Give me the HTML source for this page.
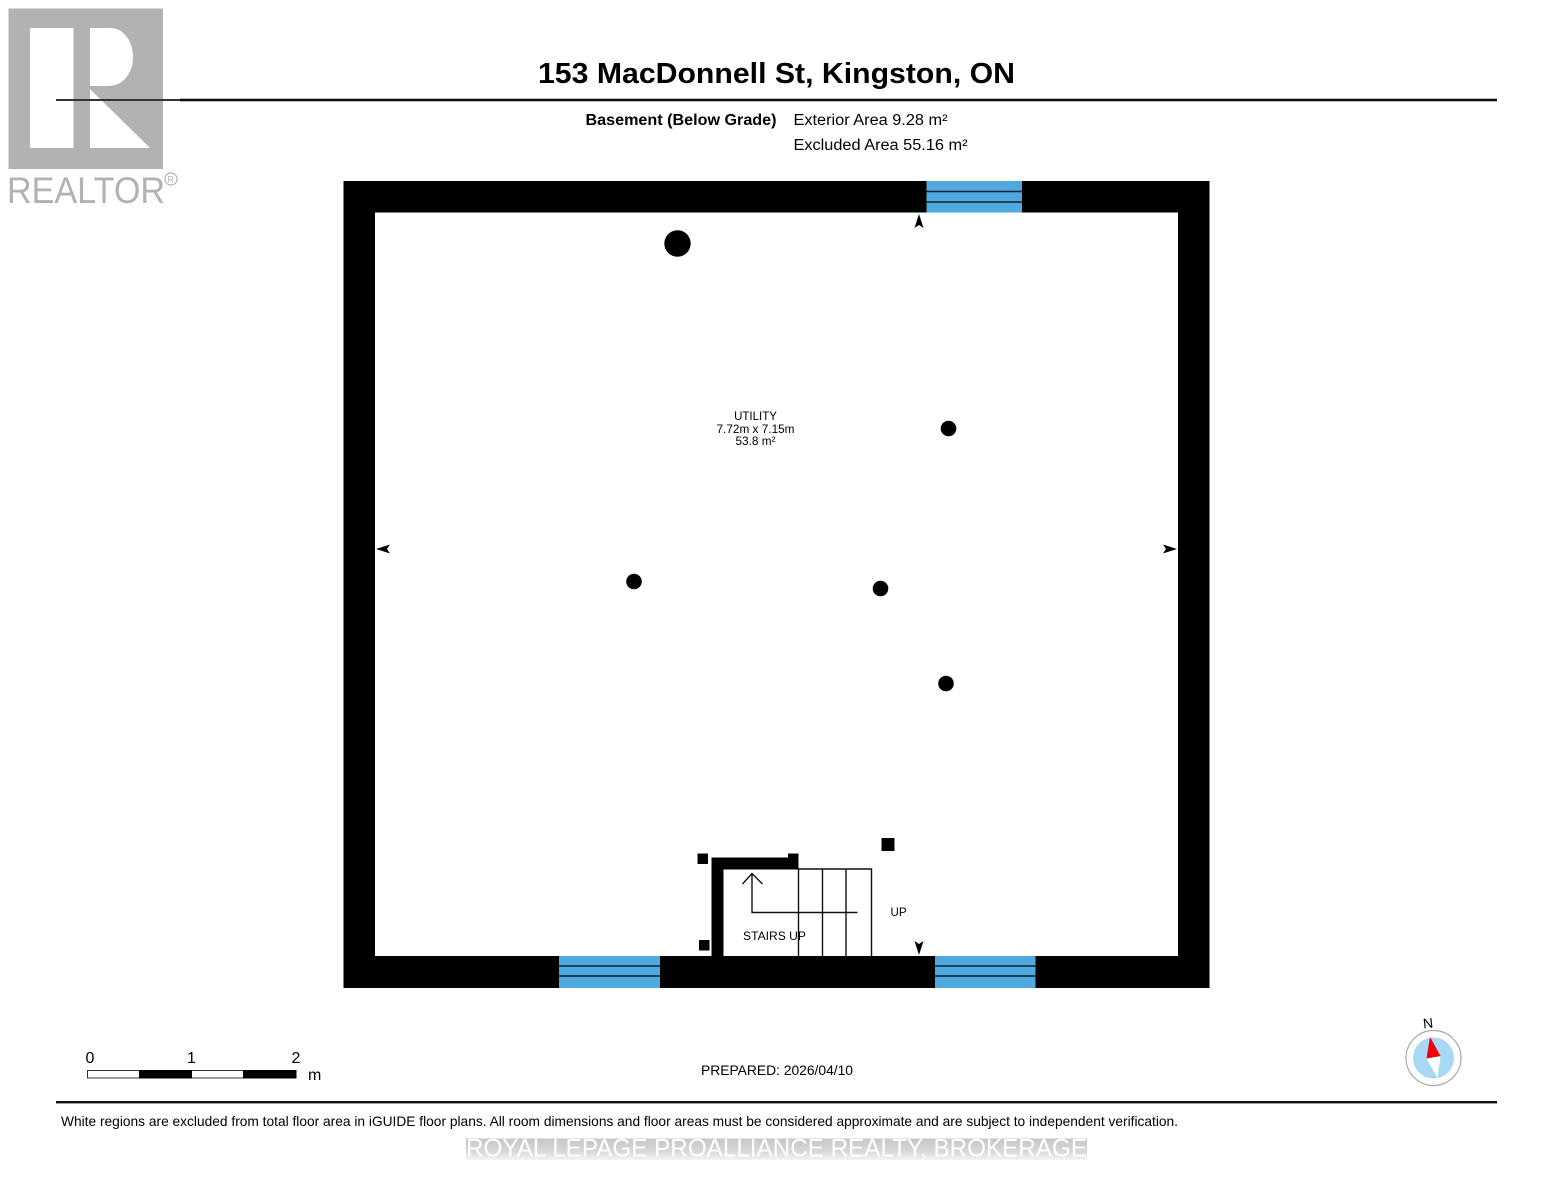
<!DOCTYPE html>
<html><head><meta charset="utf-8"><style>
html,body{margin:0;padding:0;background:#fff}
svg{display:block;filter:blur(0.35px)}
text{font-family:"Liberation Sans",Arial,sans-serif;fill:#000}
</style></head><body>
<svg width="1553" height="1200" viewBox="0 0 1553 1200" xmlns="http://www.w3.org/2000/svg">
<defs><linearGradient id="wm" x1="0" y1="0" x2="0" y2="1"><stop offset="0" stop-color="#c6c6c6"/><stop offset="0.6" stop-color="#d8d8d8"/><stop offset="1" stop-color="#f4f4f4"/></linearGradient></defs>
<rect width="1553" height="1200" fill="#fff"/>
<!-- logo -->
<rect x="8.5" y="8.5" width="154.5" height="160.5" fill="#b2b2b2"/>
<rect x="30" y="28" width="43.5" height="120" fill="#fff"/>
<path d="M90 28H110C124 28 133 42 133 57C133 72 124 86 108 86H90Z" fill="#fff"/>
<path d="M90 89L150 148H90Z" fill="#fff"/>
<text x="7" y="203" font-size="37" textLength="158" lengthAdjust="spacingAndGlyphs" style="fill:#b2b2b2">REALTOR</text>
<circle cx="171" cy="179" r="6" fill="none" stroke="#b2b2b2" stroke-width="1.2"/>
<text x="167.5" y="182.5" font-size="9" style="fill:#b2b2b2">R</text>
<!-- header -->
<rect x="56" y="99" width="124" height="2" fill="#333"/>
<rect x="180" y="98.7" width="1317" height="2.6" fill="#111"/>
<text x="538" y="83" font-size="29" font-weight="700" textLength="477" lengthAdjust="spacingAndGlyphs">153 MacDonnell St, Kingston, ON</text>
<text x="585.5" y="125" font-size="15.5" font-weight="700" textLength="191" lengthAdjust="spacingAndGlyphs">Basement (Below Grade)</text>
<text x="793.5" y="125" font-size="15.5" textLength="154" lengthAdjust="spacingAndGlyphs">Exterior Area 9.28 m²</text>
<text x="793.5" y="150" font-size="15.5" textLength="174" lengthAdjust="spacingAndGlyphs">Excluded Area 55.16 m²</text>
<!-- walls -->
<path fill-rule="evenodd" d="M343.5 181H1209.5V988H343.5ZM375 212.5V956H1178V212.5Z" fill="#000"/>
<!-- windows -->
<g fill="#4fa8de">
<rect x="926.5" y="181" width="95.5" height="31.5"/>
<rect x="559" y="956" width="101" height="32"/>
<rect x="935" y="956" width="100.5" height="32"/>
</g>
<g stroke="#0b2233" stroke-width="1.4">
<path d="M926.5 191.5H1022M926.5 202H1022"/>
<path d="M559 966H660M559 976H660"/>
<path d="M935 966H1035.5M935 976H1035.5"/>
</g>
<!-- columns -->
<circle cx="677.5" cy="243.5" r="13.2"/>
<circle cx="948.5" cy="428.5" r="7.8"/>
<circle cx="634" cy="581.5" r="7.8"/>
<circle cx="880.5" cy="588.5" r="7.8"/>
<circle cx="946" cy="683.5" r="7.8"/>
<rect x="881.5" y="838" width="13" height="13"/>
<rect x="697.5" y="853.5" width="10.5" height="10.5"/>
<rect x="699" y="940" width="10.5" height="10.5"/>
<!-- arrow markers -->
<path d="M919 214L923.5 228L919 225L914.5 228Z"/>
<path d="M919 955L914.5 941L919 944L923.5 941Z"/>
<path d="M376 549L390 544.5L387 549L390 553.5Z"/>
<path d="M1177 549L1163 544.5L1166 549L1163 553.5Z"/>
<!-- stairs -->
<rect x="711.5" y="857.5" width="12" height="99"/>
<rect x="711.5" y="857.5" width="87" height="12"/>
<rect x="788" y="853.5" width="10.5" height="12"/>
<g fill="none" stroke="#111" stroke-width="1.4">
<path d="M798.5 869H871.5V956M798.5 869V956M822.5 869V956M846 869V956"/>
<path d="M857.5 912.5H752V873M742.5 884L752 873.5L762.5 884"/>
</g>
<text x="743" y="940" font-size="11.5" textLength="63" lengthAdjust="spacingAndGlyphs">STAIRS UP</text>
<text x="890.5" y="916" font-size="11.5" textLength="16" lengthAdjust="spacingAndGlyphs">UP</text>
<!-- room label -->
<text x="755.5" y="420" font-size="11.5" text-anchor="middle">UTILITY</text>
<text x="755.5" y="433" font-size="11.8" text-anchor="middle">7.72m x 7.15m</text>
<text x="755.5" y="445" font-size="11.8" text-anchor="middle">53.8 m²</text>
<!-- scale -->
<rect x="87.5" y="1070.5" width="208.5" height="7.5" fill="#fff" stroke="#333" stroke-width="1"/>
<rect x="139" y="1070" width="53" height="8.5"/>
<rect x="243" y="1070" width="53.5" height="8.5"/>
<text x="85.5" y="1063" font-size="16">0</text>
<text x="187" y="1063" font-size="16">1</text>
<text x="291.5" y="1063" font-size="16">2</text>
<text x="308" y="1080" font-size="16">m</text>
<text x="701" y="1075" font-size="14.2" textLength="152" lengthAdjust="spacingAndGlyphs">PREPARED: 2026/04/10</text>
<!-- compass -->
<circle cx="1433.5" cy="1058" r="27.5" fill="#fff" stroke="#aaa" stroke-width="1.2"/>
<circle cx="1433.5" cy="1058" r="20.5" fill="#a9d8f5"/>
<path d="M1426.5 1058.5L1440.5 1056.5L1437.5 1078Z" fill="#fff"/>
<path d="M1430 1037L1440.5 1056L1426.5 1058.5Z" fill="#f0000c"/>
<text x="1423" y="1028" font-size="14" transform="rotate(-6 1428 1023)">N</text>
<!-- footer -->
<rect x="56" y="1101" width="1441" height="2.4" fill="#111"/>
<text x="61" y="1126" font-size="14" textLength="1117" lengthAdjust="spacingAndGlyphs">White regions are excluded from total floor area in iGUIDE floor plans. All room dimensions and floor areas must be considered approximate and are subject to independent verification.</text>
<rect x="466" y="1138.5" width="621" height="21.5" fill="url(#wm)"/>
<text x="466" y="1156.5" font-size="25" textLength="621" lengthAdjust="spacingAndGlyphs" style="fill:#fff">ROYAL LEPAGE PROALLIANCE REALTY, BROKERAGE</text>
</svg>
</body></html>
